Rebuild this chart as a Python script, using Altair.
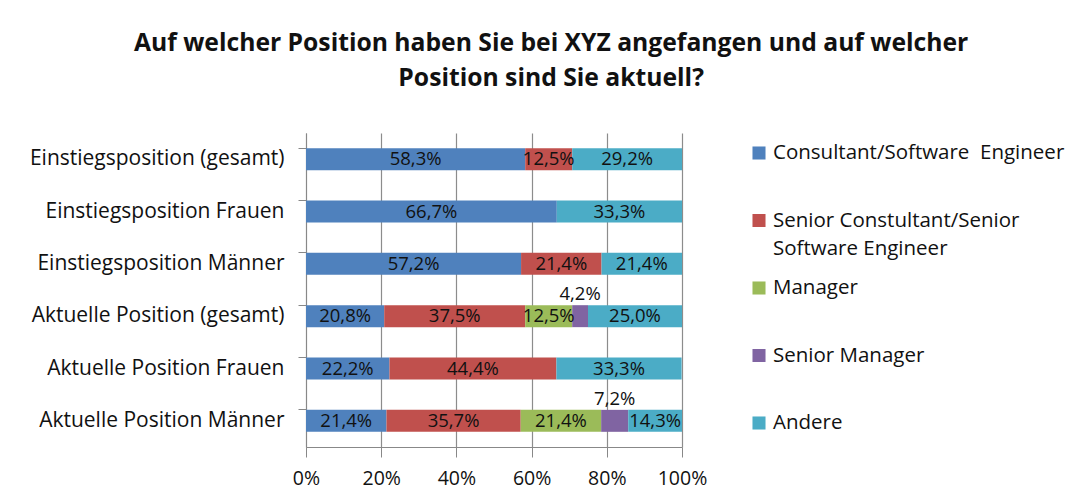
import altair as alt
import pandas as pd

categories = [
    "Einstiegsposition (gesamt)",
    "Einstiegsposition  Frauen",
    "Einstiegsposition Männer",
    "Aktuelle Position (gesamt)",
    "Aktuelle Position Frauen",
    "Aktuelle Position Männer",
]
series = [
    "Consultant/Software  Engineer",
    "Senior Constultant/Senior Software Engineer",
    "Manager",
    "Senior Manager",
    "Andere",
]
legend_lines1 = ["Consultant/Software\u00a0 Engineer", "Senior Constultant/Senior", "Manager", "Senior Manager", "Andere"]
legend_lines2 = ["", "Software Engineer", "", "", ""]
colors = ["#4F81BD", "#C0504D", "#9BBB59", "#8064A2", "#4BACC6"]

consultant = [58.3, 66.7, 57.2, 20.8, 22.2, 21.4]
senior_consultant = [12.5, 0.0, 21.4, 37.5, 44.4, 35.7]
manager = [0.0, 0.0, 0.0, 12.5, 0.0, 21.4]
senior_manager = [0.0, 0.0, 0.0, 4.2, 0.0, 7.2]
andere = [29.2, 33.3, 21.4, 25.0, 33.3, 14.3]
x_ticks = [0, 20, 40, 60, 80, 100]

title_lines = [
    "Auf welcher Position haben Sie bei XYZ angefangen und auf welcher",
    "Position sind Sie aktuell?",
]

rows = []
for si, (s, vals) in enumerate(zip(series, [consultant, senior_consultant, manager, senior_manager, andere])):
    for ci, c in enumerate(categories):
        v = vals[ci]
        if v > 0:
            rows.append({
                "category": c,
                "series": s,
                "idx": si,
                "value": v,
                "label": f"{v:.1f}".replace(".", ",") + "%",
                "above": s == "Senior Manager",
            })
df = pd.DataFrame(rows)

FONT = "Open Sans"

base = alt.Chart(df).transform_stack(
    stack="value", as_=["x0", "x1"], groupby=["category"], sort=[alt.SortField("idx")]
).transform_calculate(mid="(datum.x0 + datum.x1) / 2")

yenc = alt.Y(
    "category:N",
    sort=categories,
    title=None,
    scale=alt.Scale(paddingInner=0.58, paddingOuter=0.29),
    axis=alt.Axis(
        labelFont=FONT, labelFontSize=21, labelColor="#111", labelPadding=14,
        tickSize=8, tickColor="#888", domainColor="#888", bandPosition=0,
        minExtent=298, maxExtent=298, labelLimit=400,
    ),
)

bars = base.mark_bar().encode(
    y=yenc,
    x=alt.X(
        "x0:Q",
        scale=alt.Scale(domain=[0, 100], nice=False),
        title=None,
        axis=alt.Axis(
            values=x_ticks, labelExpr="datum.value + '%'", labelFont=FONT, labelFontSize=19.5,
            labelColor="#111", labelPadding=12, tickSize=10, tickColor="#888", domainColor="#888",
            labelFlush=False, grid=True, gridColor="#8c8c8c", gridWidth=1.2,
        ),
    ),
    x2="x1:Q",
    color=alt.Color("series:N", scale=alt.Scale(domain=series, range=colors), legend=None),
)

inside = base.transform_filter("!datum.above").mark_text(
    font=FONT, fontSize=18.5, color="#111", baseline="middle", align="center"
).encode(y=alt.Y("category:N", sort=categories), x="mid:Q", text="label:N")

above = base.transform_filter("datum.above").mark_text(
    font=FONT, fontSize=18.5, color="#111", baseline="middle", align="center", dy=-22
).encode(y=alt.Y("category:N", sort=categories), x="mid:Q", text="label:N")

main = alt.layer(bars, inside, above).properties(width=376, height=314)

leg_df = pd.DataFrame({"series": series, "line1": legend_lines1, "line2": legend_lines2})
leg_y = alt.Y("series:N", sort=series, axis=None,
              scale=alt.Scale(type="point", range=[20, 290], padding=0))
leg_base = alt.Chart(leg_df)
leg_sq = leg_base.mark_square(size=170, opacity=1).encode(
    y=leg_y, x=alt.value(16),
    color=alt.Color("series:N", scale=alt.Scale(domain=series, range=colors), legend=None),
)
leg_t1 = leg_base.mark_text(font=FONT, fontSize=20.5, color="#111", align="left", baseline="middle").encode(
    y=leg_y, x=alt.value(30), text="line1:N")
leg_t2 = leg_base.mark_text(font=FONT, fontSize=20.5, color="#111", align="left", baseline="middle", dy=28).encode(
    y=leg_y, x=alt.value(30), text="line2:N")
legend = alt.layer(leg_sq, leg_t1, leg_t2).properties(width=280, height=314)

chart = alt.hconcat(main, legend, spacing=36).properties(
    title=alt.TitleParams(
        text=title_lines, font=FONT, fontSize=24.7, fontWeight="bold", color="#111",
        anchor="middle", lineHeight=35, offset=42, frame="bounds", dx=15,
    ),
    padding={"left": 0, "top": 23, "right": 0, "bottom": 6},
).configure_view(stroke=None).resolve_scale(color="shared")

chart.save("out.html", embed_options={"renderer": "svg", "actions": False})
